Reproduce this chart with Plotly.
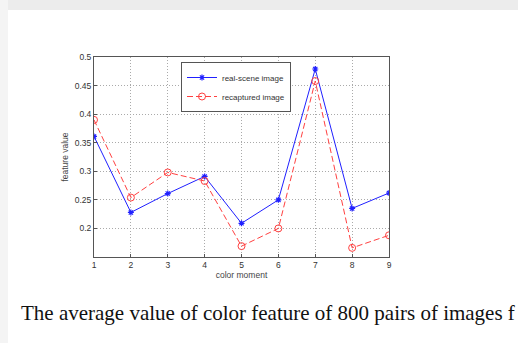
import plotly.graph_objects as go

moments = [1, 2, 3, 4, 5, 6, 7, 8, 9]
real_scene = [0.361, 0.228, 0.261, 0.291, 0.209, 0.250, 0.479, 0.235, 0.262]
recaptured = [0.390, 0.254, 0.298, 0.283, 0.169, 0.200, 0.458, 0.166, 0.188]
y_ticks = [0.2, 0.25, 0.3, 0.35, 0.4, 0.45, 0.5]
y_tick_text = ["0.2", "0.25", "0.3", "0.35", "0.4", "0.45", "0.5"]

W, H = 518, 343
L, R, T, B = 94, 389, 57, 257

def px(x):
    return (x - L) / (R - L)

def py(y):
    return (B - y) / (B - T)

fig = go.Figure()
fig.add_trace(go.Scatter(
    x=moments, y=real_scene, name="real-scene image", mode="lines+markers",
    line=dict(color="#2020ff", width=1),
    marker=dict(symbol="asterisk-open", size=5, color="#2020ff", line=dict(color="#2020ff", width=1.2)),
))
fig.add_trace(go.Scatter(
    x=moments, y=recaptured, name="recaptured image", mode="lines+markers",
    line=dict(color="#ff4040", width=1, dash="6px,3px"),
    marker=dict(symbol="circle-open", size=7, color="#ff4040", line=dict(color="#ff4040", width=1)),
))

grid = dict(showgrid=True, gridcolor="#aaaaaa", griddash="1px,2px", gridwidth=1)
tfont = dict(family="Liberation Sans, Arial", size=8.5, color="#333333")
afont = dict(family="Liberation Sans, Arial", size=8.5, color="#444444")
fig.update_xaxes(
    range=[1, 9], tickvals=moments, ticks="inside", ticklen=3, tickcolor="#555555",
    showline=True, linecolor="#555555", linewidth=1, mirror=True,
    tickfont=tfont,
    title=dict(text="color moment", font=afont, standoff=1),
    zeroline=False, **grid,
)
fig.update_yaxes(
    range=[0.15, 0.5], tickvals=y_ticks, ticktext=y_tick_text, ticks="inside", ticklen=3, tickcolor="#555555",
    showline=True, linecolor="#555555", linewidth=1, mirror=True,
    tickfont=tfont,
    title=dict(text="feature value", font=afont, standoff=4),
    zeroline=False, **grid,
)

shapes = [
    dict(type="rect", xref="paper", yref="paper", x0=px(0), x1=px(W), y0=py(0), y1=py(10),
         fillcolor="#ececec", line=dict(width=0), layer="below"),
    dict(type="rect", xref="paper", yref="paper", x0=px(0), x1=px(8), y0=py(0), y1=py(H),
         fillcolor="#f4f4f4", line=dict(width=0), layer="below"),
]

fig.update_layout(
    width=W, height=H,
    margin=dict(l=L, r=W - R, t=T, b=H - B),
    paper_bgcolor="white", plot_bgcolor="white",
    shapes=shapes,
    showlegend=True,
    legend=dict(
        x=px(181), y=py(62), xanchor="left", yanchor="top",
        bgcolor="white", bordercolor="#555555", borderwidth=1,
        font=dict(family="Liberation Sans, Arial", size=8, color="#333333"),
        tracegroupgap=0, itemwidth=30,
    ),
    annotations=[dict(
        text="The average value of color feature of 800 pairs of images f",
        xref="paper", yref="paper", x=px(19), y=py(313), xanchor="left", yanchor="middle",
        showarrow=False, font=dict(family="Liberation Serif, DejaVu Serif", size=21, color="#111111"),
    )],
)

fig.write_html("out.html", config={"displayModeBar": False},
               post_script="document.body.style.margin='0';")
